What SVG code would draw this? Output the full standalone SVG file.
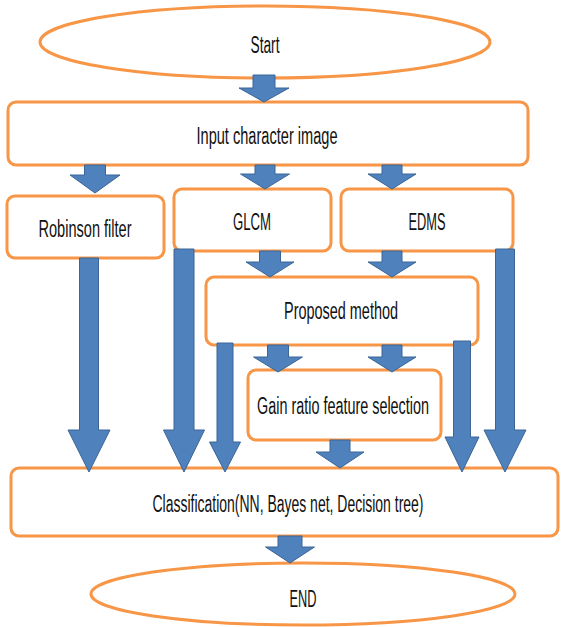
<svg xmlns="http://www.w3.org/2000/svg" width="563" height="627" viewBox="0 0 563 627">
<style>
.n{fill:#fff;stroke:#F79646;stroke-width:3}
.t{font-family:"Liberation Sans",Arial,sans-serif;font-size:23px;fill:#111;text-anchor:middle}
.a{fill:#4F81BD;stroke:#3A6596;stroke-width:1}
</style>
<rect width="563" height="627" fill="#fff"/>
<g id="start"><ellipse class="n" cx="265" cy="42" rx="225" ry="36"/><text class="t" x="265" y="53" textLength="29" lengthAdjust="spacingAndGlyphs">Start</text></g>
<g id="input"><rect class="n" x="8" y="102" width="520" height="63" rx="8"/><text class="t" x="267" y="144" textLength="141" lengthAdjust="spacingAndGlyphs">Input character image</text></g>
<g id="robinson"><rect class="n" x="7" y="196" width="157" height="62" rx="8"/><text class="t" x="85" y="237" textLength="93" lengthAdjust="spacingAndGlyphs">Robinson filter</text></g>
<g id="glcm"><rect class="n" x="174" y="189" width="157" height="62" rx="8"/><text class="t" x="252" y="230" textLength="38" lengthAdjust="spacingAndGlyphs">GLCM</text></g>
<g id="edms"><rect class="n" x="341" y="189" width="172" height="62" rx="8"/><text class="t" x="427" y="230" textLength="37" lengthAdjust="spacingAndGlyphs">EDMS</text></g>
<g id="proposed"><rect class="n" x="206" y="277" width="272" height="68" rx="8"/><text class="t" x="341" y="319" textLength="114" lengthAdjust="spacingAndGlyphs">Proposed method</text></g>
<g id="gain"><rect class="n" x="248" y="370" width="193" height="70" rx="8"/><text class="t" x="343" y="414" textLength="172" lengthAdjust="spacingAndGlyphs">Gain ratio feature selection</text></g>
<g id="classification"><rect class="n" x="11" y="468" width="547" height="68" rx="8"/><text class="t" x="288" y="512" textLength="271" lengthAdjust="spacingAndGlyphs">Classification(NN, Bayes net, Decision tree)</text></g>
<g id="end"><ellipse class="n" cx="303" cy="594" rx="212" ry="31"/><text class="t" x="303" y="607" textLength="27" lengthAdjust="spacingAndGlyphs">END</text></g>
<g id="connectors">
<polygon class="a" points="253,75 275,75 275,88 289,88 264,102 239,88 253,88"/>
<polygon class="a" points="84.5,165 105.5,165 105.5,175 120,175 95,193 70,175 84.5,175"/>
<polygon class="a" points="255,165 275,165 275,174 289.5,174 265,189 240.5,174 255,174"/>
<polygon class="a" points="382,165 402,165 402,174 416,174 392,189 368,174 382,174"/>
<polygon class="a" points="79.5,258 98.5,258 98.5,430 110,430 89,472 68,430 79.5,430"/>
<polygon class="a" points="174,249 194,249 194,430 204.5,430 184,472 163.5,430 174,430"/>
<polygon class="a" points="495.5,249 514.5,249 514.5,430 526,430 505,472 484,430 495.5,430"/>
<polygon class="a" points="259.5,251 280.5,251 280.5,262 294,262 270,277 246,262 259.5,262"/>
<polygon class="a" points="382,251 402,251 402,262 416,262 392,277 368,262 382,262"/>
<polygon class="a" points="217,343 233,343 233,442 240.5,442 225,472 209.5,442 217,442"/>
<polygon class="a" points="453.5,341 470.5,341 470.5,437 479,437 462,472 445,437 453.5,437"/>
<polygon class="a" points="267.5,345 288.5,345 288.5,357 302.5,357 278,372 253.5,357 267.5,357"/>
<polygon class="a" points="382,345 402,345 402,357 416,357 392,372 368,357 382,357"/>
<polygon class="a" points="330,440 350,440 350,452 364,452 340,468 316,452 330,452"/>
<polygon class="a" points="278,536 302,536 302,547 314.5,547 290,563 265.5,547 278,547"/>
</g>
</svg>
